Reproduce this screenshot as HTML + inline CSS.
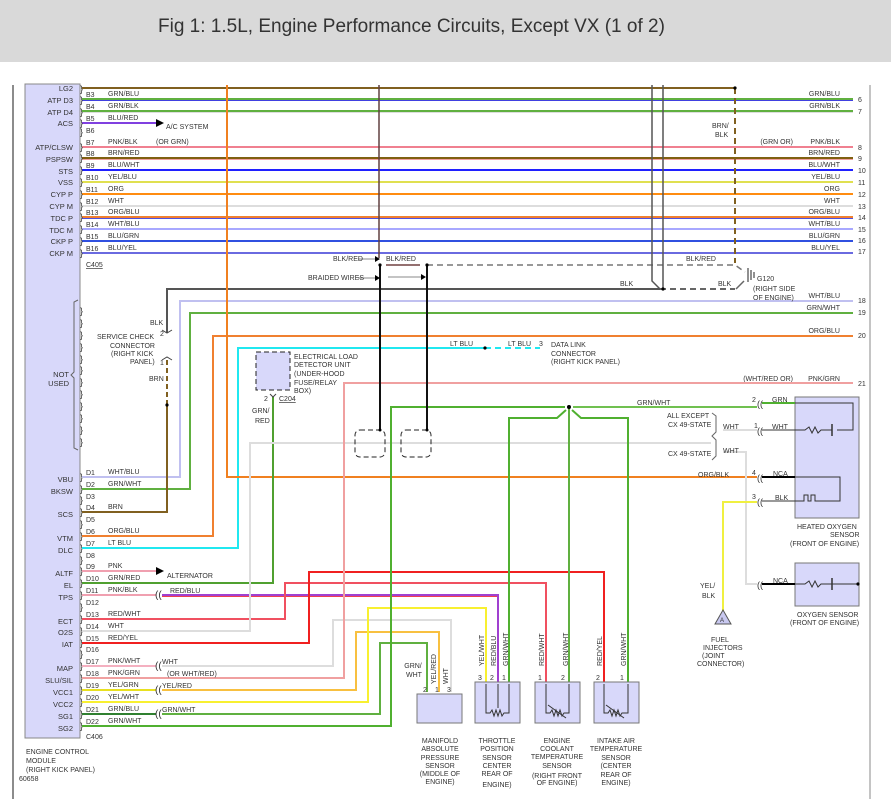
<!DOCTYPE html>
<html><head><meta charset="utf-8"><style>
html,body{margin:0;padding:0;background:#fff;width:891px;height:799px;overflow:hidden}
svg text{font-family:"Liberation Sans",sans-serif;fill:#333}
</style></head><body>
<svg width="891" height="799" viewBox="0 0 891 799" xmlns="http://www.w3.org/2000/svg">
<rect x="0" y="0" width="891" height="62" fill="#d9d9d9"/>
<text x="158" y="32" font-size="19" style="fill:#333">Fig 1: 1.5L, Engine Performance Circuits, Except VX (1 of 2)</text>
<line x1="13" y1="85" x2="13" y2="799" stroke="#666" stroke-width="1.5"/>
<line x1="870" y1="85" x2="870" y2="799" stroke="#888" stroke-width="1"/>
<rect x="25" y="84" width="55" height="654" fill="#d8d8fa" stroke="#888" stroke-width="1"/>

<g font-size="7.5" text-anchor="end">
<text x="73" y="91">LG2</text><text x="73" y="103">ATP D3</text><text x="73" y="115">ATP D4</text><text x="73" y="126">ACS</text>
<text x="73" y="150">ATP/CLSW</text><text x="73" y="162">PSPSW</text><text x="73" y="174">STS</text><text x="73" y="185">VSS</text>
<text x="73" y="197">CYP P</text><text x="73" y="209">CYP M</text><text x="73" y="221">TDC P</text><text x="73" y="233">TDC M</text>
<text x="73" y="244">CKP P</text><text x="73" y="256">CKP M</text>
<text x="69" y="377">NOT</text><text x="69" y="386">USED</text>
<text x="73" y="482">VBU</text><text x="73" y="494">BKSW</text><text x="73" y="517">SCS</text><text x="73" y="541">VTM</text>
<text x="73" y="553">DLC</text><text x="73" y="576">ALTF</text><text x="73" y="588">EL</text><text x="73" y="600">TPS</text>
<text x="73" y="624">ECT</text><text x="73" y="635">O2S</text><text x="73" y="647">IAT</text><text x="73" y="671">MAP</text>
<text x="73" y="683">SLU/SIL</text><text x="73" y="695">VCC1</text><text x="73" y="707">VCC2</text><text x="73" y="719">SG1</text><text x="73" y="731">SG2</text>
</g>
<path d="M78 300 L74 302 L74 372 L71 375 L74 378 L74 448 L78 450" fill="none" stroke="#666"/>

<g fill="none" stroke-width="2">
<line x1="82" y1="88" x2="735" y2="88" stroke="#806020"/>
<line x1="82" y1="99" x2="853" y2="99" stroke="#60b040"/><line x1="82" y1="100.5" x2="853" y2="100.5" stroke="#4040e0" stroke-width="1"/>
<line x1="82" y1="111" x2="853" y2="111" stroke="#60b040"/><line x1="82" y1="112.5" x2="853" y2="112.5" stroke="#ddd" stroke-width="1"/>
<line x1="82" y1="123" x2="156" y2="123" stroke="#8040e0"/>
<line x1="82" y1="147" x2="853" y2="147" stroke="#f08090"/>
<line x1="82" y1="158" x2="853" y2="158" stroke="#806010"/><line x1="82" y1="159.5" x2="853" y2="159.5" stroke="#f0a0a0" stroke-width="1"/>
<line x1="82" y1="170" x2="853" y2="170" stroke="#2020ff"/>
<line x1="82" y1="182" x2="853" y2="182" stroke="#e0e050"/>
<line x1="82" y1="194" x2="853" y2="194" stroke="#ff8c10"/>
<line x1="82" y1="206" x2="853" y2="206" stroke="#ddd"/>
<line x1="82" y1="217" x2="853" y2="217" stroke="#f08030"/><line x1="82" y1="218.5" x2="853" y2="218.5" stroke="#5050e0" stroke-width="1"/>
<line x1="82" y1="229" x2="853" y2="229" stroke="#a8a8ff"/>
<line x1="82" y1="241" x2="853" y2="241" stroke="#3050e0"/>
<line x1="82" y1="253" x2="853" y2="253" stroke="#6a6ae0"/>
</g>
<polygon points="156,119 164,123 156,127" fill="#000"/>
<g font-size="7">
<text x="86" y="97">B3</text><text x="108" y="96">GRN/BLU</text>
<text x="86" y="109">B4</text><text x="108" y="108">GRN/BLK</text>
<text x="86" y="121">B5</text><text x="108" y="120">BLU/RED</text><text x="166" y="129">A/C SYSTEM</text>
<text x="86" y="133">B6</text>
<text x="86" y="145">B7</text><text x="108" y="144">PNK/BLK</text><text x="156" y="144">(OR GRN)</text>
<text x="86" y="156">B8</text><text x="108" y="155">BRN/RED</text>
<text x="86" y="168">B9</text><text x="108" y="167">BLU/WHT</text>
<text x="86" y="180">B10</text><text x="108" y="179">YEL/BLU</text>
<text x="86" y="192">B11</text><text x="108" y="191">ORG</text>
<text x="86" y="204">B12</text><text x="108" y="203">WHT</text>
<text x="86" y="215">B13</text><text x="108" y="214">ORG/BLU</text>
<text x="86" y="227">B14</text><text x="108" y="226">WHT/BLU</text>
<text x="86" y="239">B15</text><text x="108" y="238">BLU/GRN</text>
<text x="86" y="251">B16</text><text x="108" y="250">BLU/YEL</text>
<text x="86" y="267" text-decoration="underline">C405</text>
</g>
<g font-size="7" text-anchor="end">
<text x="840" y="96">GRN/BLU</text><text x="840" y="108">GRN/BLK</text>
<text x="793" y="144">(GRN OR)</text><text x="840" y="144">PNK/BLK</text><text x="840" y="155">BRN/RED</text>
<text x="840" y="167">BLU/WHT</text><text x="840" y="179">YEL/BLU</text><text x="840" y="191">ORG</text><text x="840" y="203">WHT</text>
<text x="840" y="214">ORG/BLU</text><text x="840" y="226">WHT/BLU</text><text x="840" y="238">BLU/GRN</text><text x="840" y="250">BLU/YEL</text>
<text x="840" y="298">WHT/BLU</text><text x="840" y="310">GRN/WHT</text><text x="840" y="333">ORG/BLU</text>
<text x="793" y="381">(WHT/RED OR)</text><text x="840" y="381">PNK/GRN</text>
</g>
<g font-size="7">
<text x="858" y="102">6</text><text x="858" y="114">7</text><text x="858" y="150">8</text><text x="858" y="161">9</text>
<text x="858" y="173">10</text><text x="858" y="185">11</text><text x="858" y="197">12</text><text x="858" y="209">13</text>
<text x="858" y="220">14</text><text x="858" y="232">15</text><text x="858" y="243">16</text><text x="858" y="254">17</text>
<text x="858" y="303">18</text><text x="858" y="315">19</text><text x="858" y="338">20</text><text x="858" y="386">21</text>
</g>

<g font-size="9" fill="#333">
<text x="80" y="92">}</text><text x="80" y="103">}</text><text x="80" y="115">}</text><text x="80" y="126">}</text><text x="80" y="135">}</text>
<text x="80" y="150">}</text><text x="80" y="161">}</text><text x="80" y="173">}</text><text x="80" y="185">}</text><text x="80" y="197">}</text>
<text x="80" y="209">}</text><text x="80" y="220">}</text><text x="80" y="232">}</text><text x="80" y="244">}</text><text x="80" y="256">}</text>
<text x="80" y="314">}</text><text x="80" y="326">}</text><text x="80" y="338">}</text><text x="80" y="350">}</text><text x="80" y="362">}</text>
<text x="80" y="373">}</text><text x="80" y="385">}</text><text x="80" y="397">}</text><text x="80" y="409">}</text><text x="80" y="421">}</text>
<text x="80" y="433">}</text><text x="80" y="445">}</text>
<text x="80" y="480">}</text><text x="80" y="492">}</text><text x="80" y="503">}</text><text x="80" y="515">}</text><text x="80" y="527">}</text>
<text x="80" y="539">}</text><text x="80" y="551">}</text><text x="80" y="563">}</text><text x="80" y="574">}</text><text x="80" y="586">}</text>
<text x="80" y="598">}</text><text x="80" y="610">}</text><text x="80" y="622">}</text><text x="80" y="634">}</text><text x="80" y="646">}</text>
<text x="80" y="657">}</text><text x="80" y="669">}</text><text x="80" y="681">}</text><text x="80" y="693">}</text><text x="80" y="705">}</text>
<text x="80" y="717">}</text><text x="80" y="729">}</text>
</g>

<g fill="none" stroke-width="2">
<polyline points="82,477 180,477 180,301 853,301" stroke="#c0c0f0"/>
<polyline points="82,489 190,489 190,313 853,313" stroke="#60b040"/>
<polyline points="82,512 167,512 167,405" stroke="#806020"/>
<line x1="167" y1="405" x2="167" y2="360" stroke="#806020" stroke-dasharray="5,3"/>
<polyline points="167,333 167,289 660,289" stroke="#555"/>
<line x1="660" y1="289" x2="735" y2="289" stroke="#666" stroke-dasharray="6,4"/>
<polyline points="82,536 213,536 213,336 853,336" stroke="#f08030"/>
<polyline points="82,548 238,548 238,348 485,348" stroke="#20e8f0"/>
<line x1="485" y1="348" x2="540" y2="348" stroke="#20e8f0" stroke-dasharray="6,4"/>
<polyline points="227,85 227,477 757,477" stroke="#f08020"/>
<line x1="82" y1="571" x2="156" y2="571" stroke="#f0a0b0"/>
<polyline points="82,583 273,583 273,397" stroke="#50a030"/>
<line x1="82" y1="595" x2="156" y2="595" stroke="#f0a0b0"/>
<polyline points="162,595 498,595 498,682" stroke="#a040d0"/><line x1="162" y1="596.5" x2="497" y2="596.5" stroke="#f04050" stroke-width="1"/>
<polyline points="82,619 285,619 285,583 546,583 546,682" stroke="#f05060"/>
<polyline points="82,631 250,631 250,443 711,443" stroke="#ddd"/>
<polyline points="82,643 309,643 309,572 604,572 604,682" stroke="#f02020"/>
<line x1="82" y1="666" x2="156" y2="666" stroke="#f4b0c0"/>
<polyline points="162,666 333,666 333,620 451,620 451,692" stroke="#ddd"/>
<polyline points="82,678 344,678 344,383 853,383" stroke="#f0a0a0"/>
<line x1="82" y1="690" x2="156" y2="690" stroke="#e8e020"/>
<polyline points="162,690 356,690 356,632 439,632 439,692" stroke="#f8c040"/>
<polyline points="82,702 368,702 368,608 486,608 486,682" stroke="#f8f030"/>
<line x1="82" y1="714" x2="156" y2="714" stroke="#308030"/>
<polyline points="162,714 380,714 380,643 427,643 427,692" stroke="#60b040"/>
<polyline points="82,726 391,726 391,407 565,407" stroke="#50b030"/>
<polyline points="573,407 757,407" stroke="#70c050"/>
<polyline points="569,407 569,682" stroke="#60b040"/>
<polyline points="566,410 557,418 509,418 509,682" stroke="#50b030"/>
<polyline points="572,410 581,418 628,418 628,682" stroke="#50b030"/>
<polyline points="723,452 746,452 746,584 757,584" stroke="#ddd"/>
<line x1="723" y1="430" x2="757" y2="430" stroke="#ddd"/>
<polyline points="723,612 723,502 757,502" stroke="#f0f040"/>
</g>
<circle cx="569" cy="407" r="2" fill="#000"/>
<circle cx="485" cy="348" r="1.6" fill="#000"/>
<circle cx="167" cy="405" r="1.6" fill="#000"/>
<polygon points="156,567 164,571 156,575" fill="#000"/>
<g font-size="7">
<text x="86" y="475">D1</text><text x="108" y="474">WHT/BLU</text>
<text x="86" y="487">D2</text><text x="108" y="486">GRN/WHT</text>
<text x="86" y="499">D3</text>
<text x="86" y="510">D4</text><text x="108" y="509">BRN</text>
<text x="86" y="522">D5</text>
<text x="86" y="534">D6</text><text x="108" y="533">ORG/BLU</text>
<text x="86" y="546">D7</text><text x="108" y="545">LT BLU</text>
<text x="86" y="558">D8</text>
<text x="86" y="569">D9</text><text x="108" y="568">PNK</text><text x="167" y="578">ALTERNATOR</text>
<text x="86" y="581">D10</text><text x="108" y="580">GRN/RED</text>
<text x="86" y="593">D11</text><text x="108" y="592">PNK/BLK</text><text x="170" y="593">RED/BLU</text>
<text x="86" y="605">D12</text>
<text x="86" y="617">D13</text><text x="108" y="616">RED/WHT</text>
<text x="86" y="629">D14</text><text x="108" y="628">WHT</text>
<text x="86" y="641">D15</text><text x="108" y="640">RED/YEL</text>
<text x="86" y="652">D16</text>
<text x="86" y="664">D17</text><text x="108" y="663">PNK/WHT</text><text x="162" y="664">WHT</text>
<text x="86" y="676">D18</text><text x="108" y="675">PNK/GRN</text><text x="167" y="676">(OR WHT/RED)</text>
<text x="86" y="688">D19</text><text x="108" y="687">YEL/GRN</text><text x="162" y="688">YEL/RED</text>
<text x="86" y="700">D20</text><text x="108" y="699">YEL/WHT</text>
<text x="86" y="712">D21</text><text x="108" y="711">GRN/BLU</text><text x="162" y="712">GRN/WHT</text>
<text x="86" y="724">D22</text><text x="108" y="723">GRN/WHT</text>
<text x="86" y="739">C406</text>
<text x="26" y="754">ENGINE CONTROL</text><text x="26" y="763">MODULE</text><text x="26" y="772">(RIGHT KICK PANEL)</text>
<text x="19" y="781">60658</text>
</g>
<g font-size="10" fill="#333"><text x="155" y="598">((</text><text x="155" y="669">((</text><text x="155" y="693">((</text><text x="155" y="717">((</text></g>

<g fill="none">
<line x1="379" y1="85" x2="379" y2="258" stroke="#604040" stroke-width="1.5"/>
<line x1="386" y1="265" x2="420" y2="265" stroke="#704040" stroke-width="1.5"/>
<polyline points="427,265 735,265 745,272" stroke="#777" stroke-width="1.5" stroke-dasharray="6,4"/>
<line x1="735" y1="88" x2="735" y2="263" stroke="#806020" stroke-width="2" stroke-dasharray="6,4"/>
<polyline points="652,85 652,281 660,289" stroke="#555" stroke-width="1.5"/>
<line x1="663" y1="85" x2="663" y2="289" stroke="#555" stroke-width="1.5"/>
<line x1="736" y1="289" x2="744" y2="281" stroke="#666" stroke-width="1.5"/>
<line x1="380" y1="265" x2="380" y2="430" stroke="#111" stroke-width="2"/>
<line x1="427" y1="265" x2="427" y2="430" stroke="#111" stroke-width="2"/>
<line x1="358" y1="278" x2="375" y2="278" stroke="#888"/>
<line x1="388" y1="277" x2="421" y2="277" stroke="#888"/>
<line x1="358" y1="259" x2="375" y2="259" stroke="#888"/>
<rect x="355" y="430" width="30" height="27" rx="5" stroke="#222" stroke-dasharray="5,3"/>
<rect x="401" y="430" width="30" height="27" rx="5" stroke="#222" stroke-dasharray="5,3"/>
<line x1="748" y1="268" x2="748" y2="282" stroke="#222"/><line x1="751" y1="270" x2="751" y2="280" stroke="#222"/><line x1="754" y1="272" x2="754" y2="278" stroke="#222"/>
</g>
<polygon points="375,275 380,278 375,281" fill="#000"/><polygon points="421,274 426,277 421,280" fill="#000"/><polygon points="375,256 380,259 375,262" fill="#000"/>
<circle cx="380" cy="265" r="1.6" fill="#000"/><circle cx="427" cy="265" r="1.6" fill="#000"/><circle cx="735" cy="88" r="1.6" fill="#000"/><circle cx="663" cy="289" r="1.6" fill="#000"/>
<circle cx="380" cy="430" r="1.5" fill="#000"/><circle cx="427" cy="430" r="1.5" fill="#000"/>
<g font-size="7">
<text x="333" y="261">BLK/RED</text><text x="386" y="261">BLK/RED</text><text x="308" y="280">BRAIDED WIRES</text>
<text x="686" y="261">BLK/RED</text><text x="620" y="286">BLK</text><text x="718" y="286">BLK</text>
<text x="712" y="128">BRN/</text><text x="715" y="137">BLK</text>
<text x="757" y="281">G120</text><text x="753" y="291">(RIGHT SIDE</text><text x="753" y="300">OF ENGINE)</text>
<text x="150" y="325">BLK</text><text x="160" y="336">2</text>
<text x="97" y="339">SERVICE CHECK</text><text x="110" y="348">CONNECTOR</text><text x="111" y="356">(RIGHT KICK</text><text x="130" y="364">PANEL)</text>
<text x="160" y="365">1</text><text x="149" y="381">BRN</text>
<text x="450" y="346">LT BLU</text><text x="508" y="346">LT BLU</text><text x="539" y="346">3</text>
<text x="551" y="347">DATA LINK</text><text x="551" y="356">CONNECTOR</text><text x="551" y="364">(RIGHT KICK PANEL)</text>
<text x="294" y="359">ELECTRICAL LOAD</text><text x="294" y="367">DETECTOR UNIT</text><text x="294" y="376">(UNDER-HOOD</text><text x="294" y="385">FUSE/RELAY</text><text x="294" y="393">BOX)</text>
<text x="264" y="380">LOAD</text><text x="258" y="388">OUTPUT</text>
<text x="264" y="401">2</text><text x="279" y="401" text-decoration="underline">C204</text>
<text x="252" y="413">GRN/</text><text x="255" y="423">RED</text>
<text x="637" y="405">GRN/WHT</text>
<text x="667" y="418">ALL EXCEPT</text><text x="668" y="427">CX 49-STATE</text><text x="668" y="456">CX 49-STATE</text>
<text x="723" y="429">WHT</text><text x="723" y="453">WHT</text><text x="698" y="477">ORG/BLK</text>
<text x="700" y="588">YEL/</text><text x="702" y="598">BLK</text>
<text x="711" y="642">FUEL</text><text x="703" y="650">INJECTORS</text><text x="702" y="658">(JOINT</text><text x="697" y="666">CONNECTOR)</text>
</g>
<rect x="256" y="352" width="34" height="38" fill="#d8d8fa" stroke="#222" stroke-dasharray="5,3"/>
<path d="M270 394 L273 397 L276 394" fill="none" stroke="#444"/>
<path d="M162 330 L167 333 L172 330 M162 360 L167 357 L172 360" fill="none" stroke="#444"/>
<path d="M712 413 L716 416 L716 432 L712 436 L716 440 L716 456 L712 460" fill="none" stroke="#666"/>
<polygon points="715,624 723,610 731,624" fill="#c8c8f0" stroke="#555"/>
<text x="720" y="622" font-size="6">A</text>

<rect x="795" y="397" width="64" height="121" fill="#d8d8fa" stroke="#777"/>
<rect x="795" y="563" width="64" height="43" fill="#d8d8fa" stroke="#777"/>
<g fill="none" stroke-width="1.5">
<line x1="762" y1="403" x2="795" y2="403" stroke="#50b030" stroke-width="2"/>
<polyline points="795,403 853,403 853,430 837,430" stroke="#333" stroke-width="1"/>
<polyline points="762,430 805,430 809,427 812,433 815,427 818,433 821,430 832,430" stroke="#333" stroke-width="1"/>
<line x1="762" y1="477" x2="795" y2="477" stroke="#000" stroke-width="2"/>
<polyline points="795,477 840,477 840,501 820,501" stroke="#333" stroke-width="1"/>
<polyline points="762,501 804,501 804,495 808,495 808,501 811,501 811,495 815,495 815,501 820,501" stroke="#333" stroke-width="1"/>
<line x1="762" y1="584" x2="795" y2="584" stroke="#000" stroke-width="2"/>
<polyline points="795,584 805,584 809,581 812,587 815,581 818,587 821,584 858,584" stroke="#333" stroke-width="1"/>
<line x1="832" y1="424" x2="832" y2="436" stroke="#333"/><line x1="832" y1="578" x2="832" y2="590" stroke="#333"/>
</g>
<circle cx="858" cy="584" r="1.6" fill="#000"/>
<g font-size="9" fill="#333"><text x="757" y="407">((</text><text x="757" y="434">((</text><text x="757" y="481">((</text><text x="757" y="505">((</text><text x="757" y="588">((</text></g>
<g font-size="7">
<text x="752" y="402">2</text><text x="772" y="402">GRN</text><text x="754" y="428">1</text><text x="772" y="429">WHT</text>
<text x="752" y="475">4</text><text x="773" y="476">NCA</text><text x="752" y="499">3</text><text x="775" y="500">BLK</text>
<text x="773" y="583">NCA</text>
<text x="797" y="529">HEATED OXYGEN</text><text x="830" y="537">SENSOR</text><text x="790" y="546">(FRONT OF ENGINE)</text>
<text x="797" y="617">OXYGEN SENSOR</text><text x="790" y="625">(FRONT OF ENGINE)</text>
</g>

<g fill="#d8d8fa" stroke="#777">
<rect x="417" y="694" width="45" height="29"/>
<rect x="475" y="682" width="45" height="41"/>
<rect x="535" y="682" width="45" height="41"/>
<rect x="594" y="682" width="45" height="41"/>
</g>
<g fill="none" stroke="#333" stroke-width="1">
<polyline points="486,684 486,713 490,713 492,710 494,716 496,710 498,716 500,710 502,716 504,713 509,713 509,684"/>
<line x1="498" y1="684" x2="498" y2="708"/>
<polyline points="546,684 546,713 550,713 552,710 554,716 556,710 558,716 560,710 562,716 564,713 569,713 569,684"/>
<line x1="548" y1="705" x2="566" y2="718"/>
<polyline points="604,684 604,713 608,713 610,710 612,716 614,710 616,716 618,710 620,716 622,713 628,713 628,684"/>
<line x1="606" y1="705" x2="624" y2="718"/>
</g>
<g font-size="7" text-anchor="middle">
<text x="425" y="692">2</text><text x="437" y="692">1</text><text x="449" y="692">3</text>
<text x="480" y="680">3</text><text x="492" y="680">2</text><text x="504" y="680">1</text>
<text x="540" y="680">1</text><text x="563" y="680">2</text>
<text x="598" y="680">2</text><text x="622" y="680">1</text>
<text x="413" y="668">GRN/</text><text x="414" y="677">WHT</text>
<text x="440" y="743">MANIFOLD</text><text x="440" y="751">ABSOLUTE</text><text x="440" y="760">PRESSURE</text><text x="440" y="768">SENSOR</text><text x="440" y="776">(MIDDLE OF</text><text x="440" y="784">ENGINE)</text>
<text x="497" y="743">THROTTLE</text><text x="497" y="751">POSITION</text><text x="497" y="760">SENSOR</text><text x="497" y="768">CENTER</text><text x="497" y="776">REAR OF</text><text x="497" y="787">ENGINE)</text>
<text x="557" y="743">ENGINE</text><text x="557" y="751">COOLANT</text><text x="557" y="759">TEMPERATURE</text><text x="557" y="768">SENSOR</text><text x="557" y="778">(RIGHT FRONT</text><text x="557" y="785">OF ENGINE)</text>
<text x="616" y="743">INTAKE AIR</text><text x="616" y="751">TEMPERATURE</text><text x="616" y="760">SENSOR</text><text x="616" y="768">(CENTER</text><text x="616" y="777">REAR OF</text><text x="616" y="785">ENGINE)</text>
</g>
<g font-size="7">
<text transform="translate(436,684) rotate(-90)">YEL/RED</text>
<text transform="translate(448,684) rotate(-90)">WHT</text>
<text transform="translate(484,666) rotate(-90)">YEL/WHT</text>
<text transform="translate(496,666) rotate(-90)">RED/BLU</text>
<text transform="translate(508,666) rotate(-90)">GRN/WHT</text>
<text transform="translate(544,666) rotate(-90)">RED/WHT</text>
<text transform="translate(568,666) rotate(-90)">GRN/WHT</text>
<text transform="translate(602,666) rotate(-90)">RED/YEL</text>
<text transform="translate(626,666) rotate(-90)">GRN/WHT</text>
</g>
</svg>
</body></html>
